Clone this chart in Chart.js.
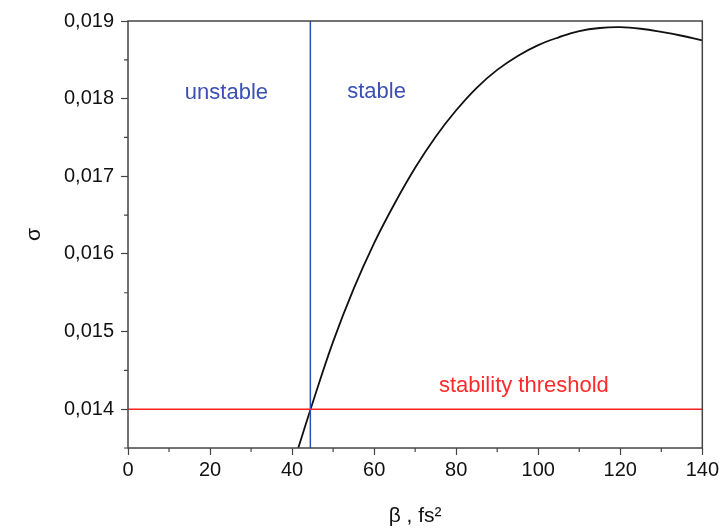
<!DOCTYPE html>
<html>
<head>
<meta charset="utf-8">
<script src="https://cdn.jsdelivr.net/npm/chart.js@4/dist/chart.umd.min.js"></script>
<style>
  html, body { margin: 0; padding: 0; background: #fff; }
  #wrap { width: 722px; height: 532px; }
</style>
</head>
<body>
<div id="wrap"><canvas id="chart"></canvas></div>
<script>
// datos: sigma en funcion de beta (fs^2)
const beta = [41.5, 45, 50, 55, 60, 65, 70, 75, 80, 85, 90, 95, 100, 105, 110, 115, 120, 125, 130, 135, 140];
const sigma = [0.01350, 0.01408, 0.01487, 0.01555, 0.01614, 0.01665, 0.01711, 0.01751, 0.01785, 0.01814, 0.01837, 0.01855, 0.01869, 0.01879, 0.01887, 0.01891, 0.01892, 0.01890, 0.01886, 0.01881, 0.01875];
const threshold = 0.014;     // linea roja
const boundary = 44.45;      // linea azul (limite estable / inestable)
const xRange = [0, 140];
const yRange = [0.0135, 0.019];

const FONT = "'Liberation Sans', Arial, sans-serif";

const curve = beta.map((b, i) => ({ x: b, y: sigma[i] }));

// marco, marcas menores y textos
const extras = {
  id: 'extras',
  afterDraw(chart) {
    const { ctx, chartArea: a, scales: { x, y } } = chart;
    ctx.save();
    ctx.strokeStyle = '#444';
    ctx.lineWidth = 1.5;
    ctx.strokeRect(a.left, a.top, a.right - a.left, a.bottom - a.top);

    // marcas menores
    ctx.lineWidth = 1.2;
    ctx.beginPath();
    for (let v = 10; v < 140; v += 20) {
      const px = x.getPixelForValue(v);
      ctx.moveTo(px, a.bottom);
      ctx.lineTo(px, a.bottom + 4);
    }
    for (let v = 0.0135; v < 0.019; v += 0.001) {
      const py = y.getPixelForValue(v);
      ctx.moveTo(a.left, py);
      ctx.lineTo(a.left - 4, py);
    }
    ctx.stroke();

    ctx.font = '22px ' + FONT;
    ctx.textAlign = 'center';
    ctx.textBaseline = 'middle';
    ctx.fillStyle = '#3b4fb4';
    ctx.fillText('unstable', x.getPixelForValue(24.0), y.getPixelForValue(0.01807));
    ctx.fillText('stable', x.getPixelForValue(60.6), y.getPixelForValue(0.01808));
    ctx.fillStyle = '#ff2a2a';
    ctx.fillText('stability threshold', x.getPixelForValue(96.5), y.getPixelForValue(0.014305));
    ctx.restore();
  }
};

new Chart(document.getElementById('chart'), {
  type: 'scatter',
  data: {
    datasets: [
      {
        data: [{ x: xRange[0], y: threshold }, { x: xRange[1], y: threshold }],
        showLine: true, borderColor: '#ff2020', borderWidth: 1.5, pointRadius: 0
      },
      {
        data: [{ x: boundary, y: yRange[0] }, { x: boundary, y: yRange[1] }],
        showLine: true, borderColor: '#2a4fc0', borderWidth: 1.5, pointRadius: 0
      },
      {
        data: curve,
        showLine: true, borderColor: '#111', borderWidth: 1.8, pointRadius: 0,
        tension: 0.4
      }
    ]
  },
  options: {
    responsive: true,
    maintainAspectRatio: false,
    animation: false,
    layout: { padding: { top: 21, right: 19, left: 0, bottom: 0 } },
    plugins: { legend: { display: false }, tooltip: { enabled: false } },
    scales: {
      x: {
        type: 'linear', min: xRange[0], max: xRange[1],
        afterFit: s => { s.height = 84; },
        border: { display: false },
        grid: { drawOnChartArea: false, tickLength: 7, tickColor: '#444', tickWidth: 1.2 },
        ticks: { stepSize: 20, color: '#111', padding: 3, font: { family: FONT, size: 20 } },
        title: { display: true, text: 'β , fs²', color: '#111', padding: { top: 0, bottom: 3 }, font: { family: FONT, size: 21 } }
      },
      y: {
        type: 'linear', min: yRange[0], max: yRange[1],
        afterFit: s => { s.width = 128; },
        border: { display: false },
        grid: {
          drawOnChartArea: false, tickLength: 7, tickWidth: 1.2,
          tickColor: c => (Math.round(c.tick.value * 10000) % 10 === 0 ? '#444' : 'transparent')
        },
        ticks: {
          stepSize: 0.0005, color: '#111', padding: 7, font: { family: FONT, size: 20 },
          callback: v => (Math.round(v * 10000) % 10 === 0 ? v.toFixed(3).replace('.', ',') : '')
        },
        title: { display: true, text: 'σ', color: '#111', padding: { top: 22, bottom: 0 }, font: { family: FONT, size: 21 } }
      }
    }
  },
  plugins: [extras]
});
</script>
</body>
</html>
